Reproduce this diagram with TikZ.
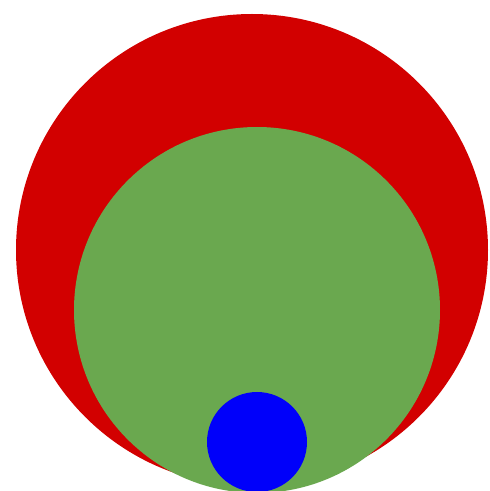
\documentclass[tikz,border=0pt]{standalone}
\definecolor{outerred}{RGB}{210,0,0}
\definecolor{midgreen}{RGB}{106,168,79}
\definecolor{innerblue}{RGB}{0,0,250}
\begin{document}
\begin{tikzpicture}[x=1pt,y=1pt,
  disc/.style={circle,inner sep=0pt,outer sep=0pt,draw=none}]
\useasboundingbox (0,0) rectangle (490,491);
\clip (0,0) rectangle (490,491);
\fill[white] (0,0) rectangle (490,491);
\node[disc,fill=outerred,minimum size=472pt] (outer) at (252,241) {};
\node[disc,fill=midgreen,minimum size=366pt] (middle) at (257,181) {};
\node[disc,fill=innerblue,minimum size=100pt] (inner) at (257,49) {};
\end{tikzpicture}
\end{document}
